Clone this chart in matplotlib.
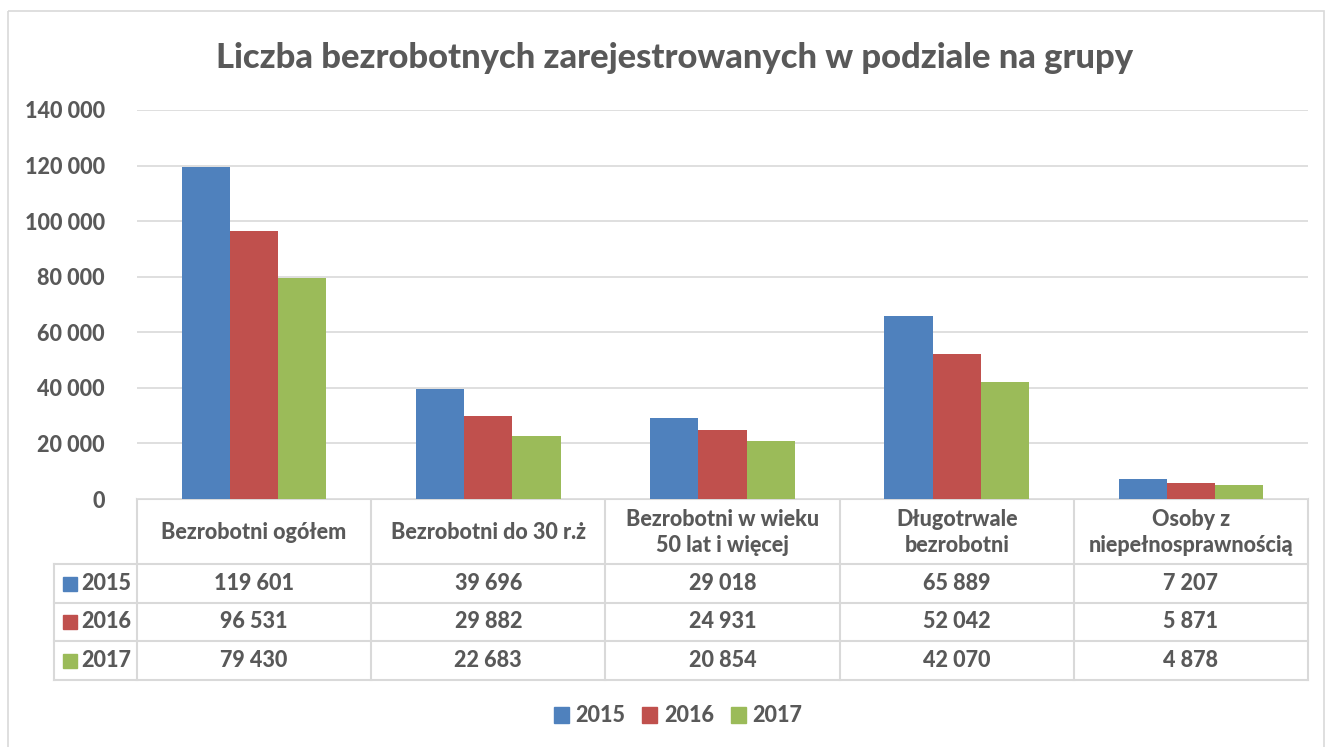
import matplotlib
matplotlib.use("Agg")
import matplotlib.pyplot as plt
from matplotlib.patches import Patch, Rectangle
import numpy as np

categories = ["Bezrobotni ogółem", "Bezrobotni do 30 r.ż", "Bezrobotni w wieku\n50 lat i więcej",
              "Długotrwale\nbezrobotni", "Osoby z\nniepełnosprawnością"]
years = ["2015", "2016", "2017"]
v2015 = [119601, 39696, 29018, 65889, 7207]
v2016 = [96531, 29882, 24931, 52042, 5871]
v2017 = [79430, 22683, 20854, 42070, 4878]
series = [v2015, v2016, v2017]
yticks = [0, 20000, 40000, 60000, 80000, 100000, 120000, 140000]
title = "Liczba bezrobotnych zarejestrowanych w podziale na grupy"

colors = ["#4f81bd", "#c0504d", "#9bbb59"]
TXT = "#595959"
GRID = "#d9d9d9"
FONT = "Lato"
WT = 900

W, H = 1327, 747
fig = plt.figure(figsize=(W / 100, H / 100), dpi=100)

def fx(x): return x / W
def fy(y): return 1 - y / H

L, R, T, B = 137, 1308, 110, 499
ax = fig.add_axes([fx(L), fy(B), fx(R - L), (B - T) / H])
x = np.arange(len(categories))
bw = 0.206
for i, (vals, c) in enumerate(zip(series, colors)):
    ax.bar(x + (i - 1) * bw, vals, width=bw, color=c, zorder=3)
ax.set_xlim(-0.5, len(categories) - 0.5)
ax.set_ylim(0, 140000)
ax.set_yticks(yticks)
ax.set_yticklabels([f"{t:,}".replace(",", " ") for t in yticks])
ax.tick_params(axis="y", length=0, pad=23, labelsize=15.5, labelcolor=TXT)
for lab in ax.get_yticklabels():
    lab.set_fontfamily(FONT)
    lab.set_fontweight(WT)
ax.set_xticks([])
ax.grid(axis="y", color=GRID, linewidth=1.2, zorder=0)
for s in ax.spines.values():
    s.set_visible(False)

ov = fig.add_axes([0, 0, 1, 1], zorder=-1)
ov.set_xlim(0, W)
ov.set_ylim(H, 0)
ov.axis("off")
ov.add_patch(Rectangle((8, 11), 1316, 740, fill=False, edgecolor=GRID, linewidth=1.2))

col_edges = np.linspace(L, R, len(categories) + 1)
row_edges = [B, 564, 603, 641, 680]
lx = 54
lw = 1.5
ov.plot([L, R], [B, B], color=GRID, lw=lw)
for ce in col_edges:
    ov.plot([ce, ce], [B, row_edges[-1]], color=GRID, lw=lw)
ov.plot([lx, lx], [row_edges[1], row_edges[-1]], color=GRID, lw=lw)
for re_ in row_edges[1:]:
    ov.plot([lx, R], [re_, re_], color=GRID, lw=lw)

fs = 15.5
centers = (col_edges[:-1] + col_edges[1:]) / 2
for cx, cat in zip(centers, categories):
    ov.text(cx, (row_edges[0] + row_edges[1]) / 2 + 1, cat, ha="center", va="center",
            fontsize=fs, fontweight=WT, color=TXT, family=FONT, linespacing=1.25)
for r, (yr, vals, c) in enumerate(zip(years, series, colors)):
    cy = (row_edges[r + 1] + row_edges[r + 2]) / 2
    ov.add_patch(Rectangle((63, cy - 7), 14, 14, color=c))
    ov.text(81, cy, yr, ha="left", va="center", fontsize=fs, fontweight=WT, color=TXT, family=FONT)
    for cx, v in zip(centers, vals):
        ov.text(cx, cy, f"{v:,}".replace(",", " "), ha="center", va="center",
                fontsize=fs, fontweight=WT, color=TXT, family=FONT)

fig.text(fx(675), fy(58), title, ha="center", va="center", fontsize=24.8,
         fontweight=WT, color=TXT, family=FONT)

handles = [Patch(color=c, label=y) for c, y in zip(colors, years)]
fig.legend(handles=handles, loc="center", bbox_to_anchor=(fx(678), fy(716)), ncol=3,
           frameon=False, handlelength=0.7, handleheight=0.7, handletextpad=0.3,
           columnspacing=0.8, prop={"family": FONT, "weight": WT, "size": 15.5},
           labelcolor=TXT)

fig.savefig("out.png", dpi=100)
